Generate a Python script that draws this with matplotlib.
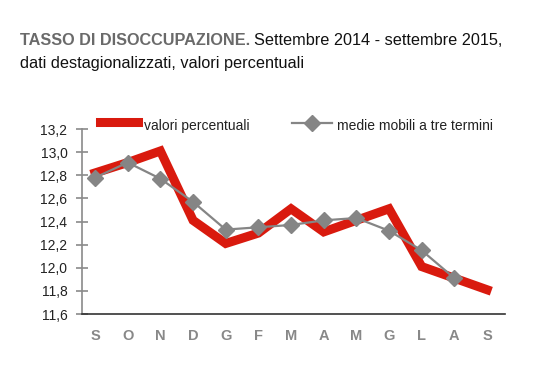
import numpy as np
import matplotlib.pyplot as plt
from matplotlib.ticker import FuncFormatter

mesi = ['S', 'O', 'N', 'D', 'G', 'F', 'M', 'A', 'M', 'G', 'L', 'A', 'S']
valori = [12.82, 12.91, 13.01, 12.41, 12.21, 12.30, 12.51, 12.31, 12.41, 12.51, 12.01, 11.91, 11.81]
medie = [12.78, 12.91, 12.77, 12.57, 12.33, 12.35, 12.37, 12.41, 12.43, 12.32, 12.15, 11.91]
yticks = [11.6, 11.8, 12.0, 12.2, 12.4, 12.6, 12.8, 13.0, 13.2]

rosso = '#d91a0e'
grigio = '#858585'
fam = ['Liberation Sans Narrow', 'Liberation Sans', 'DejaVu Sans']

fig = plt.figure(figsize=(5.55, 3.87), dpi=100)
ax = fig.add_axes([82/555, 1 - 314/387, (505-82)/555, (314-129)/387])

x = np.arange(len(mesi))
ax.plot(x, valori, color=rosso, lw=6.5, solid_joinstyle='miter', zorder=2)
ax.plot(x[:len(medie)], medie, color=grigio, lw=1.6, marker='D', ms=8.5,
        mec=grigio, mfc=grigio, zorder=3)

ax.set_xlim(-0.4, 12.55)
ax.set_ylim(11.6, 13.2)
ax.set_yticks(yticks)
ax.yaxis.set_major_formatter(FuncFormatter(lambda v, p: ('%.1f' % v).replace('.', ',')))
ax.set_xticks(x)
ax.set_xticklabels(mesi)

for s in ['top', 'right']:
    ax.spines[s].set_visible(False)
ax.spines['left'].set_color('#8a8a8a')
ax.spines['left'].set_linewidth(1.2)
ax.spines['bottom'].set_color('#333333')
ax.spines['bottom'].set_linewidth(1.2)
ax.tick_params(axis='y', direction='inout', length=9, width=1.2, color='#8a8a8a',
               labelsize=10, labelcolor='#222222', pad=6)
ax.tick_params(axis='x', length=0, labelsize=10.5, labelcolor='#888888', pad=11)
for lab in ax.get_yticklabels():
    lab.set_family(fam)
for lab in ax.get_xticklabels():
    lab.set_family(fam)
    lab.set_fontweight('bold')

# legenda
fig.add_artist(plt.Line2D([100/555, 138/555], [1 - 122/387]*2, color=rosso, lw=6.5))
fig.text(144/555, 1 - 126/387, 'valori percentuali', fontsize=10, color='#222222',
         family=fam, va='center')
fig.add_artist(plt.Line2D([292/555, 332/555], [1 - 123/387]*2, color=grigio, lw=1.6))
fig.add_artist(plt.Line2D([312/555], [1 - 123/387], color=grigio, marker='D', ms=8.5))
fig.text(337/555, 1 - 126/387, 'medie mobili a tre termini', fontsize=10, color='#222222',
         family=fam, va='center')

# titolo
fs = 11.7
t1 = fig.text(20/555, 1 - 45/387, 'TASSO DI DISOCCUPAZIONE.', fontsize=fs, fontweight='bold',
              color='#6a6a6a', family=fam)
fig.canvas.draw()
bb = t1.get_window_extent()
fig.text(bb.x1/555 + 4/555, 1 - 45/387, 'Settembre 2014 - settembre 2015,', fontsize=fs,
         color='#111111', family=fam)
fig.text(20/555, 1 - 68/387, 'dati destagionalizzati, valori percentuali', fontsize=fs,
         color='#111111', family=fam)

fig.savefig('out.png', dpi=100)
